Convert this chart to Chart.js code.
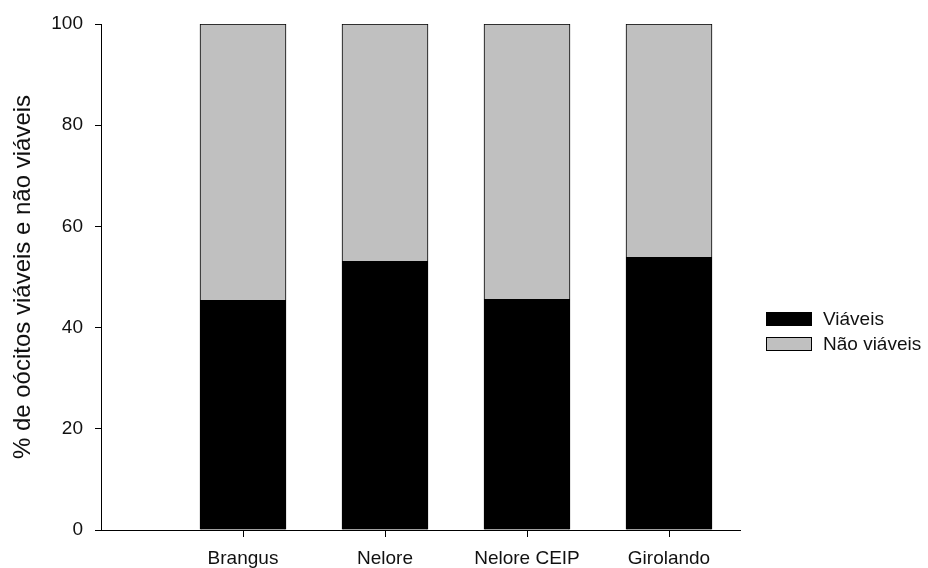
<!DOCTYPE html>
<html>
<head>
<meta charset="utf-8">
<script src="https://cdn.jsdelivr.net/npm/chart.js@4"></script>
<style>
  body { margin: 0; background: #fff; }
  #wrap { position: relative; width: 928px; height: 568px; }
  #legend { position: absolute; left: 766px; top: 306px; font-family: "Liberation Sans", Arial, sans-serif; font-size: 19px; color: #111; }
  #legend div { display: flex; align-items: center; height: 25px; }
  #legend span.box { display: inline-block; width: 44px; height: 12px; border: 1px solid #000; margin-right: 11px; }
</style>
</head>
<body>
<div id="wrap">
  <canvas id="chart" width="928" height="568"></canvas>
  <div id="legend"></div>
</div>
<script>
// dados
const racas = ["Brangus", "Nelore", "Nelore CEIP", "Girolando"];
const viaveis = [45.4, 53.1, 45.6, 53.9];
const naoViaveis = [54.6, 46.9, 54.4, 46.1];
const yTicks = [0, 20, 40, 60, 80, 100];

const nomes = ["Viáveis", "Não viáveis"];
const cores = ["#000000", "#c0c0c0"];

// posicao de cada barra no eixo x (1, 2, 3, 4)
function pontos(vals) {
  return vals.map((v, i) => ({ x: i + 1, y: v }));
}

// tracinhos do eixo x embaixo de cada barra
const marcasX = {
  id: "marcasX",
  afterDraw(chart) {
    const s = chart.scales.x;
    const c = chart.ctx;
    c.save();
    c.strokeStyle = "#000";
    c.lineWidth = 1;
    c.beginPath();
    s.ticks.forEach((t, i) => {
      const px = Math.round(s.getPixelForTick(i)) + 0.5;
      c.moveTo(px, s.top);
      c.lineTo(px, s.top + 7);
    });
    c.stroke();
    c.restore();
  },
};

const ctx = document.querySelector("#chart");

new Chart(ctx, {
  type: "bar",
  data: {
    datasets: [
      {
        label: nomes[0],
        data: pontos(viaveis),
        backgroundColor: cores[0],
        borderColor: "#000",
        borderWidth: 1,
        barThickness: 86,
      },
      {
        label: nomes[1],
        data: pontos(naoViaveis),
        backgroundColor: cores[1],
        borderColor: "#000",
        borderWidth: 1,
        barThickness: 86,
      },
    ],
  },
  plugins: [marcasX],
  options: {
    responsive: false,
    animation: false,
    layout: { padding: { top: 24, right: 188, left: 0, bottom: 0 } },
    plugins: { legend: { display: false }, tooltip: { enabled: false } },
    scales: {
      x: {
        type: "linear",
        stacked: true,
        offset: false,
        min: 0,
        max: 4.5,
        afterBuildTicks: (axis) => {
          axis.ticks = racas.map((r, i) => ({ value: i + 1 }));
        },
        afterFit: (axis) => { axis.height = 38; },
        ticks: {
          callback: (v) => racas[v - 1] || "",
          color: "#111",
          padding: 11,
          maxRotation: 0,
          font: { family: "Liberation Sans", size: 19 },
        },
        grid: { offset: false, drawOnChartArea: false, drawTicks: true, tickLength: 6, color: "#000" },
        border: { color: "#000", width: 1 },
      },
      y: {
        stacked: true,
        min: 0,
        max: 100,
        afterBuildTicks: (axis) => {
          axis.ticks = yTicks.map((v) => ({ value: v }));
        },
        afterFit: (axis) => { axis.width = 101; },
        ticks: {
          color: "#111",
          padding: 12,
          font: { family: "Liberation Sans", size: 19 },
        },
        grid: { drawOnChartArea: false, drawTicks: true, tickLength: 6, color: "#000" },
        border: { color: "#000", width: 1 },
        title: {
          display: true,
          text: "% de oócitos viáveis e não viáveis",
          color: "#111",
          padding: { top: 9, bottom: 0 },
          font: { family: "Liberation Sans", size: 24 },
        },
      },
    },
  },
});

// legenda
const legend = document.querySelector("#legend");
nomes.forEach((n, i) => {
  const row = document.createElement("div");
  row.innerHTML = `<span class="box" style="background:${cores[i]}"></span>${n}`;
  legend.appendChild(row);
});
</script>
</body>
</html>
